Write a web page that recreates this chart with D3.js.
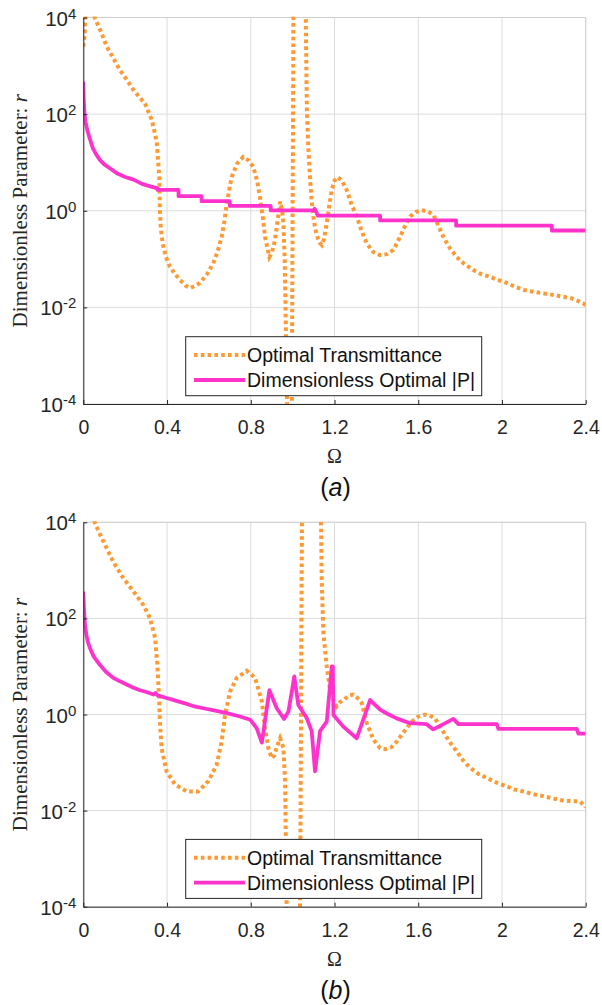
<!DOCTYPE html>
<html>
<head>
<meta charset="utf-8">
<script src="https://cdn.jsdelivr.net/npm/d3@7"></script>
<style>
  html, body { margin: 0; padding: 0; background: #fff; }
  svg { display: block; }
</style>
</head>
<body>
<svg id="chart" width="602" height="1005"></svg>
<script>
// Frequency axis ticks and log-axis decades
const xTicks = [0, 0.4, 0.8, 1.2, 1.6, 2, 2.4];
const yExponents = [-4, -2, 0, 2, 4];

const seriesNames = ["Optimal Transmittance", "Dimensionless Optimal |P|"];
const panelTags = ["a", "b"];

// Case (a): optimal transmittance, [Ω, r]
const transA = [
  [0, 2500], [0.006, 4000], [0.012, 2e4], [0.03, 2e4], [0.056, 9500], [0.085, 5000],
  [0.112, 2500], [0.145, 1400], [0.175, 810], [0.21, 500], [0.239, 320], [0.27, 220],
  [0.295, 165], [0.327, 76], [0.345, 35], [0.351, 25], [0.358, 10], [0.363, 5.0],
  [0.366, 1.0], [0.37, 0.45], [0.379, 0.21], [0.395, 0.11], [0.414, 0.069], [0.44, 0.048],
  [0.462, 0.037], [0.49, 0.028], [0.51, 0.025], [0.535, 0.028], [0.557, 0.032], [0.59, 0.048],
  [0.621, 0.081], [0.645, 0.16], [0.661, 0.29], [0.675, 0.63], [0.685, 1.4], [0.70, 3.2],
  [0.709, 5.0], [0.735, 9.5], [0.764, 13], [0.79, 11], [0.812, 8.1], [0.83, 4.2],
  [0.844, 1.9], [0.858, 0.71], [0.868, 0.29], [0.889, 0.11], [0.902, 0.14], [0.916, 0.25],
  [0.93, 0.71], [0.94, 1.55], [0.95, 1.0], [0.956, 0.55], [0.962, 0.1], [0.966, 0.01],
  [0.970, 0.001], [0.975, 3e-5], [0.99, 1e-5], [0.996, 1e-4], [0.998, 0.01], [1.0, 1],
  [1.002, 100], [1.004, 3e4], [1.03, 1e5], [1.06, 3e4], [1.063, 8900], [1.068, 120],
  [1.075, 20], [1.083, 5.0], [1.09, 1.8], [1.099, 0.76], [1.108, 0.42], [1.118, 0.29],
  [1.128, 0.22], [1.139, 0.195], [1.15, 0.26], [1.163, 0.55], [1.175, 1.3], [1.187, 2.7],
  [1.20, 4.2], [1.215, 5.0], [1.235, 4.2], [1.258, 2.7], [1.28, 1.4], [1.306, 0.76],
  [1.33, 0.38], [1.354, 0.21], [1.385, 0.14], [1.418, 0.12], [1.45, 0.126], [1.481, 0.155],
  [1.50, 0.22], [1.521, 0.34], [1.54, 0.52], [1.561, 0.76], [1.59, 0.95], [1.617, 1.02],
  [1.645, 0.98], [1.673, 0.81], [1.695, 0.50], [1.72, 0.29], [1.75, 0.17], [1.784, 0.11],
  [1.82, 0.079], [1.864, 0.059], [1.9, 0.049], [1.943, 0.043], [1.98, 0.037], [2.023, 0.032],
  [2.06, 0.027], [2.102, 0.023], [2.15, 0.021], [2.198, 0.0195], [2.25, 0.018], [2.293, 0.0166],
  [2.33, 0.0155], [2.357, 0.014], [2.39, 0.012], [2.4, 0.0112]
];

// Case (a): dimensionless optimal |P|, [Ω, r]
const forceA = [
  [0, 470], [0.002, 200], [0.005, 112], [0.01, 71], [0.02, 45], [0.03, 32], [0.045, 20],
  [0.06, 15], [0.08, 11.2], [0.1, 9.1], [0.13, 7.4], [0.16, 6.0], [0.2, 5.0], [0.24, 4.4],
  [0.28, 3.6], [0.32, 3.2], [0.355, 2.9], [0.355, 2.7], [0.455, 2.7], [0.455, 2.0],
  [0.565, 2.0], [0.565, 1.58], [0.70, 1.58], [0.70, 1.26], [0.895, 1.26], [0.895, 1.02],
  [1.10, 1.02], [1.105, 1.1], [1.115, 0.9], [1.12, 0.79], [1.418, 0.79], [1.418, 0.63],
  [1.781, 0.63], [1.781, 0.49], [2.238, 0.49], [2.238, 0.39], [2.4, 0.39]
];

// Case (b): optimal transmittance, [Ω, r]
const transB = [
  [0, 1e5], [0.03, 3e4], [0.056, 9500], [0.096, 4000], [0.143, 1500], [0.191, 690],
  [0.247, 330], [0.287, 190], [0.319, 100], [0.343, 39], [0.354, 10.7], [0.362, 2.2],
  [0.366, 0.71], [0.374, 0.2], [0.398, 0.065], [0.438, 0.035], [0.494, 0.025], [0.549, 0.025],
  [0.597, 0.041], [0.637, 0.089], [0.661, 0.275], [0.677, 0.98], [0.701, 3.0], [0.733, 5.8],
  [0.781, 8.1], [0.821, 5.8], [0.853, 1.86], [0.868, 0.52], [0.884, 0.2], [0.900, 0.123],
  [0.912, 0.14], [0.924, 0.21], [0.94, 0.32], [0.956, 0.2], [0.964, 0.041], [0.968, 0.0017],
  [0.972, 6e-5], [0.99, 1e-5], [1.02, 1e-5], [1.035, 6e-5], [1.038, 0.01], [1.04, 1],
  [1.042, 100], [1.045, 2e4], [1.09, 1e5], [1.13, 2e4], [1.136, 8000], [1.139, 630],
  [1.147, 49], [1.155, 22], [1.163, 10], [1.179, 3.2], [1.195, 2.0], [1.21, 1.48],
  [1.225, 1.8], [1.242, 2.0], [1.27, 2.5], [1.29, 2.6], [1.31, 2.2], [1.33, 1.74],
  [1.354, 0.66], [1.386, 0.30], [1.418, 0.2], [1.445, 0.19], [1.473, 0.21], [1.50, 0.28],
  [1.521, 0.38], [1.545, 0.52], [1.569, 0.71], [1.60, 0.91], [1.633, 1.0], [1.655, 0.95],
  [1.68, 0.83], [1.705, 0.56], [1.728, 0.38], [1.755, 0.25], [1.784, 0.17], [1.815, 0.11],
  [1.847, 0.078], [1.885, 0.059], [1.927, 0.048], [1.975, 0.038], [2.023, 0.032], [2.06, 0.0275],
  [2.102, 0.025], [2.15, 0.022], [2.198, 0.020], [2.245, 0.0178], [2.293, 0.0162], [2.335, 0.0158],
  [2.373, 0.0155], [2.397, 0.0123], [2.4, 0.0117]
];

// Case (b): dimensionless optimal |P|, [Ω, r]
const forceB = [
  [0, 360], [0.003, 160], [0.008, 72], [0.015, 45], [0.022, 32], [0.032, 24], [0.05, 16],
  [0.08, 10.7], [0.11, 7.6], [0.143, 5.8], [0.175, 4.9], [0.207, 4.2], [0.24, 3.6],
  [0.271, 3.2], [0.305, 2.9], [0.335, 2.6], [0.345, 2.8], [0.355, 2.5], [0.398, 2.2],
  [0.44, 1.95], [0.478, 1.74], [0.525, 1.5], [0.573, 1.35], [0.63, 1.2], [0.685, 1.07],
  [0.749, 0.91], [0.797, 0.78], [0.828, 0.52], [0.853, 0.26], [0.889, 3.2], [0.924, 1.35],
  [0.959, 0.81], [0.98, 1.15], [1.008, 6.2], [1.027, 1.58], [1.067, 0.85], [1.091, 0.45],
  [1.107, 0.066], [1.131, 0.45], [1.163, 0.71], [1.187, 10], [1.192, 10], [1.195, 0.98],
  [1.242, 0.56], [1.306, 0.32], [1.37, 2.0], [1.418, 1.26], [1.45, 1.05], [1.497, 0.83],
  [1.561, 0.66], [1.64, 0.63], [1.672, 0.49], [1.72, 0.63], [1.768, 0.81], [1.792, 0.63],
  [1.975, 0.63], [1.983, 0.50], [2.357, 0.50], [2.365, 0.40], [2.4, 0.40]
];

const panels = [
  { tag: panelTags[0], trans: transA, force: forceA, top: 17.5, bottom: 404 },
  { tag: panelTags[1], trans: transB, force: forceB, top: 522.3, bottom: 906.7 }
];

const colTrans = "#ff9933";
const colForce = "#ff33cc";
const sansFont = "'Liberation Sans', Arial, Helvetica, sans-serif";
const serifFont = "'Liberation Serif', 'Times New Roman', Times, serif";

const svg = d3.select("#chart");
const left = 83.3, right = 585.7;
const x = d3.scaleLinear().domain([0, 2.4]).range([left, right]);

panels.forEach((p, i) => {
  const y = d3.scaleLog().domain([1e-4, 1e4]).range([p.bottom, p.top]);
  const g = svg.append("g");

  // grid
  g.append("g").selectAll("line").data(xTicks).join("line")
    .attr("x1", d => x(d)).attr("x2", d => x(d))
    .attr("y1", p.top).attr("y2", p.bottom)
    .attr("stroke", "#dcdcdc").attr("stroke-width", 1);
  g.append("g").selectAll("line").data(yExponents).join("line")
    .attr("x1", left).attr("x2", right)
    .attr("y1", d => y(Math.pow(10, d))).attr("y2", d => y(Math.pow(10, d)))
    .attr("stroke", "#dcdcdc").attr("stroke-width", 1);

  // top / right box edges
  g.append("path")
    .attr("d", `M${left},${p.top}H${right}V${p.bottom}`)
    .attr("fill", "none").attr("stroke", "#d0d0d0").attr("stroke-width", 1);

  // clip region
  const clipId = "clip" + i;
  svg.append("clipPath").attr("id", clipId).append("rect")
    .attr("x", left).attr("y", p.top - 1).attr("width", right - left).attr("height", p.bottom - p.top + 2);

  const line = d3.line().x(d => x(d[0])).y(d => y(d[1]));
  const plot = g.append("g").attr("clip-path", `url(#${clipId})`);

  plot.append("path").datum(p.trans)
    .attr("d", line)
    .attr("fill", "none").attr("stroke", colTrans)
    .attr("stroke-width", 4).attr("stroke-dasharray", "3.6,3.2");

  plot.append("path").datum(p.force)
    .attr("d", line)
    .attr("fill", "none").attr("stroke", colForce)
    .attr("stroke-width", 3.8).attr("stroke-linejoin", "round");

  // x axis
  const xAxis = d3.axisBottom(x).tickValues(xTicks).tickSizeInner(-4).tickSizeOuter(0)
    .tickPadding(18).tickFormat(d => String(d));
  const xg = g.append("g").attr("transform", `translate(0,${p.bottom})`).call(xAxis);
  xg.select(".domain").attr("stroke", "#262626");
  xg.selectAll(".tick line").attr("stroke", "#262626");
  xg.selectAll(".tick text").attr("font-family", sansFont).attr("font-size", 19.5)
    .attr("fill", "#262626").attr("dy", null).attr("y", 30);

  // y axis with power-of-ten labels
  const yAxis = d3.axisLeft(y).tickValues(yExponents.map(e => Math.pow(10, e)))
    .tickSizeInner(-4).tickSizeOuter(0).tickPadding(0).tickFormat("");
  const yg = g.append("g").attr("transform", `translate(${left},0)`).call(yAxis);
  yg.select(".domain").attr("stroke", "#262626");
  yg.selectAll(".tick line").attr("stroke", "#262626");
  yg.selectAll(".tick").each(function(d) {
    const e = Math.round(Math.log10(d));
    const t = d3.select(this).append("text")
      .attr("x", -7).attr("y", 7.5).attr("text-anchor", "end")
      .attr("font-family", sansFont).attr("fill", "#262626");
    t.append("tspan").attr("font-size", 20.5).text("10");
    t.append("tspan").attr("font-size", 15).attr("dy", -7).text(String(e));
  });

  // axis titles
  g.append("text")
    .attr("x", (left + right) / 2).attr("y", p.bottom + 59)
    .attr("text-anchor", "middle").attr("font-family", serifFont).attr("font-size", 20)
    .attr("fill", "#262626").text("Ω");

  const yl = g.append("text")
    .attr("transform", `translate(27,${(p.top + p.bottom) / 2}) rotate(-90)`)
    .attr("text-anchor", "middle").attr("font-family", serifFont).attr("font-size", 21)
    .attr("fill", "#262626");
  yl.append("tspan").text("Dimensionless Parameter: ");
  yl.append("tspan").attr("font-style", "italic").text("r");

  // panel tag
  const tg = g.append("text")
    .attr("x", (left + right) / 2 + 1).attr("y", p.bottom + 92)
    .attr("text-anchor", "middle").attr("font-family", sansFont).attr("font-size", 25)
    .attr("fill", "#111");
  tg.append("tspan").text("(");
  tg.append("tspan").attr("font-style", "italic").text(p.tag);
  tg.append("tspan").text(")");

  // legend
  const lg = g.append("g");
  lg.append("rect")
    .attr("x", 185.7).attr("y", p.bottom - 67.3).attr("width", 296).attr("height", 59)
    .attr("fill", "#fff").attr("stroke", "#262626").attr("stroke-width", 1);
  const rows = [
    { name: seriesNames[0], color: colTrans, dash: "3.6,3.2", cy: p.bottom - 49 },
    { name: seriesNames[1], color: colForce, dash: null, cy: p.bottom - 24 }
  ];
  rows.forEach(r => {
    lg.append("line")
      .attr("x1", 194).attr("x2", 245).attr("y1", r.cy).attr("y2", r.cy)
      .attr("stroke", r.color).attr("stroke-width", r.dash ? 4 : 3.8)
      .attr("stroke-dasharray", r.dash);
    lg.append("text")
      .attr("x", 247).attr("y", r.cy + 7)
      .attr("font-family", sansFont).attr("font-size", 19.5).attr("fill", "#111")
      .text(r.name);
  });
});
</script>
</body>
</html>
